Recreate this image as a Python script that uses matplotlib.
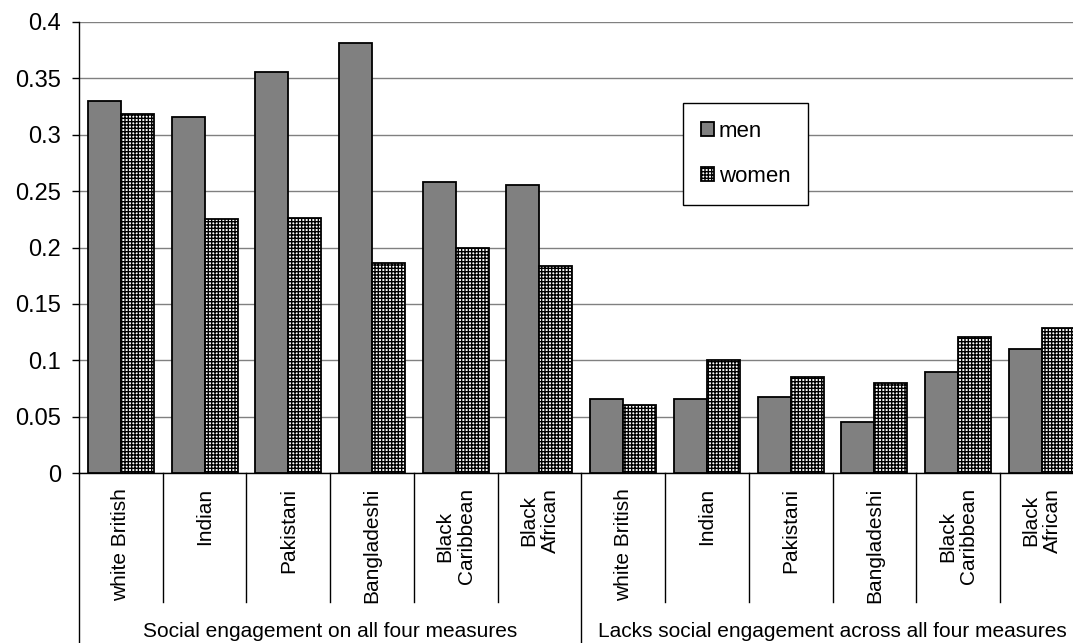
import matplotlib
matplotlib.use("Agg")
import matplotlib.pyplot as plt
import matplotlib.transforms as mtransforms
import numpy as np

plt.rcParams['font.family'] = ['Liberation Sans', 'DejaVu Sans']
plt.rcParams['hatch.linewidth'] = 1.0

categories = ["white British", "Indian", "Pakistani", "Bangladeshi",
              "Black\nCaribbean", "Black\nAfrican"]
groups = ["Social engagement on all four measures",
          "Lacks social engagement across all four measures"]
men = [0.330, 0.316, 0.356, 0.381, 0.258, 0.255,
       0.066, 0.066, 0.067, 0.045, 0.090, 0.110]
women = [0.318, 0.225, 0.226, 0.186, 0.200, 0.184,
         0.060, 0.100, 0.085, 0.080, 0.121, 0.129]
yticks = [0, 0.05, 0.1, 0.15, 0.2, 0.25, 0.3, 0.35, 0.4]
ytick_labels = ["0", "0.05", "0.1", "0.15", "0.2", "0.25", "0.3", "0.35", "0.4"]

W, H = 1073, 643
fig = plt.figure(figsize=(W / 100, H / 100), dpi=100)
left_px, right_px, top_px, bot_px = 79, 1083.7, 22, 473
ax = fig.add_axes([left_px / W, 1 - bot_px / H, (right_px - left_px) / W,
                   (bot_px - top_px) / H])

n = len(men)
x = np.arange(n) + 0.5
bw = 0.394
ax.bar(x - bw / 2, men, width=bw, color='#808080', edgecolor='black',
       linewidth=1.3, label='men', zorder=3)
ax.bar(x + bw / 2, women, width=bw, color='white', edgecolor='black',
       hatch='+++++', linewidth=1.3, label='women', zorder=3)

ax.set_xlim(0, n)
ax.set_ylim(0, 0.4)
ax.set_yticks(yticks)
ax.set_yticklabels(ytick_labels, fontsize=17)
ax.tick_params(axis='y', length=5, width=1, pad=8, direction='out')
ax.set_xticks([])
ax.yaxis.grid(True, color='#808080', linewidth=1, zorder=0)
ax.set_axisbelow(True)
for s in ['top', 'right']:
    ax.spines[s].set_visible(False)
ax.spines['left'].set_linewidth(1)
ax.spines['bottom'].set_linewidth(1)

trans = mtransforms.blended_transform_factory(ax.transData, ax.transAxes)
ah = bot_px - top_px
sep_bottom = (bot_px - 602) / ah
full_bottom = (bot_px - 643) / ah
label_top = (bot_px - 488) / ah
group_y = (bot_px - 637) / ah

for i in range(n + 1):
    yb = full_bottom if i in (0, 6) else sep_bottom
    ax.plot([i, i], [0, yb], color='black', linewidth=1, transform=trans,
            clip_on=False)

for i in range(n):
    ax.text(x[i], label_top, categories[i % 6], rotation=90, ha='center',
            va='top', fontsize=15, transform=trans, multialignment='center',
            linespacing=1.15)

ax.text(3, group_y, groups[0], ha='center', va='baseline', fontsize=15,
        transform=trans)
ax.text(9, group_y, groups[1], ha='center', va='baseline', fontsize=15,
        transform=trans)

leg = ax.legend(loc='upper left', bbox_to_anchor=(683 / W, 1 - 103 / H),
                bbox_transform=fig.transFigure, borderaxespad=0,
                fontsize=16, frameon=True, fancybox=False, edgecolor='black',
                framealpha=1, labelspacing=1.1, handlelength=0.6,
                handleheight=0.6, handletextpad=0.2, borderpad=0.8)
leg.get_frame().set_linewidth(1)

fig.savefig("out.png", dpi=100)
